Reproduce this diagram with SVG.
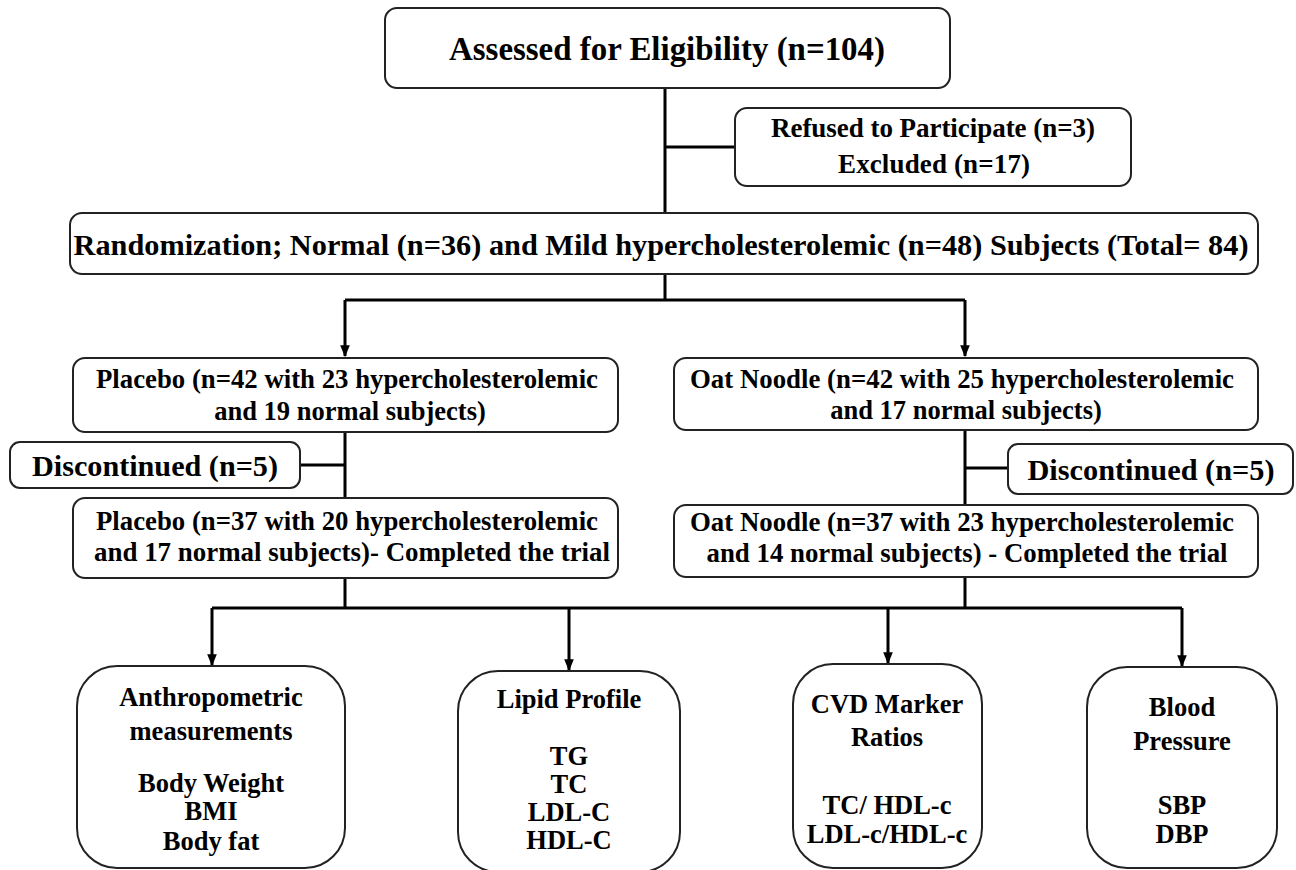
<svg xmlns="http://www.w3.org/2000/svg" width="1296" height="870" viewBox="0 0 1296 870">
<defs>
<style>
.box{fill:#fff;stroke:#222;stroke-width:2}
.t{font-family:"Liberation Serif","Times New Roman",serif;font-weight:bold;fill:#000;text-anchor:middle}
.m{font-size:26.5px}
.b{font-size:26.5px}
.c{stroke:#000;stroke-width:3;fill:none}
</style>
<marker id="ah" viewBox="0 0 10 10" refX="9" refY="5" markerWidth="4" markerHeight="4" orient="auto" markerUnits="strokeWidth">
<path d="M0,1 L10,5 L0,9 Z" fill="#000"/>
</marker>
</defs>
<rect width="1296" height="870" fill="#fff"/>
<g id="connectors">
<path class="c" d="M665,88 V213 M665,147 H735"/>
<path class="c" d="M665,274 V300 M345,300 H965"/>
<path class="c" d="M345,300 V356" marker-end="url(#ah)"/>
<path class="c" d="M965,300 V356" marker-end="url(#ah)"/>
<path class="c" d="M345,432 V498 M300,465 H345"/>
<path class="c" d="M965,430 V505 M965,468 H1008"/>
<path class="c" d="M345,578 V608 M965,577 V608 M212,608 H1182"/>
<path class="c" d="M212,608 V665" marker-end="url(#ah)"/>
<path class="c" d="M569,608 V670" marker-end="url(#ah)"/>
<path class="c" d="M888,608 V663" marker-end="url(#ah)"/>
<path class="c" d="M1182,608 V666" marker-end="url(#ah)"/>
</g>
<g id="assessed">
<rect class="box" x="385" y="8" width="565" height="80" rx="12"/>
<text class="t" x="667" y="60" font-size="33" textLength="436" lengthAdjust="spacingAndGlyphs">Assessed for Eligibility (n=104)</text>
</g>
<g id="refused">
<rect class="box" x="735" y="108" width="396" height="78" rx="12"/>
<text class="t" x="933" y="137" font-size="27" textLength="324">Refused to Participate (n=3)</text>
<text class="t" x="934" y="173" font-size="27" textLength="192">Excluded (n=17)</text>
</g>
<g id="randomization">
<rect class="box" x="70" y="213" width="1188" height="61" rx="12"/>
<text class="t" x="661" y="255" font-size="30" textLength="1175" lengthAdjust="spacingAndGlyphs">Randomization; Normal (n=36) and Mild hypercholesterolemic (n=48) Subjects (Total= 84)</text>
</g>
<g id="placebo1">
<rect class="box" x="73" y="358" width="545" height="74" rx="12"/>
<text class="t m" x="347" y="388" textLength="502" lengthAdjust="spacingAndGlyphs">Placebo (n=42 with 23 hypercholesterolemic</text>
<text class="t m" x="350" y="420">and 19 normal subjects)</text>
</g>
<g id="oat1">
<rect class="box" x="674" y="358" width="584" height="72" rx="12"/>
<text class="t m" x="962" y="388" textLength="544" lengthAdjust="spacingAndGlyphs">Oat Noodle (n=42 with 25 hypercholesterolemic</text>
<text class="t m" x="966" y="419">and 17 normal subjects)</text>
</g>
<g id="disc-left">
<rect class="box" x="10" y="442" width="290" height="46" rx="10"/>
<text class="t" x="155" y="476" font-size="30" textLength="246" lengthAdjust="spacingAndGlyphs">Discontinued (n=5)</text>
</g>
<g id="disc-right">
<rect class="box" x="1008" y="444" width="285" height="50" rx="10"/>
<text class="t" x="1151" y="480" font-size="30" textLength="247" lengthAdjust="spacingAndGlyphs">Discontinued (n=5)</text>
</g>
<g id="placebo2">
<rect class="box" x="73" y="498" width="545" height="80" rx="12"/>
<text class="t m" x="347" y="530" textLength="502" lengthAdjust="spacingAndGlyphs">Placebo (n=37 with 20 hypercholesterolemic</text>
<text class="t m" x="352" y="561" textLength="516" lengthAdjust="spacingAndGlyphs">and 17 normal subjects)- Completed the trial</text>
</g>
<g id="oat2">
<rect class="box" x="674" y="505" width="584" height="72" rx="12"/>
<text class="t m" x="962" y="531" textLength="544" lengthAdjust="spacingAndGlyphs">Oat Noodle (n=37 with 23 hypercholesterolemic</text>
<text class="t m" x="967" y="562" textLength="521" lengthAdjust="spacingAndGlyphs">and 14 normal subjects) - Completed the trial</text>
</g>
<g id="anthro">
<rect class="box" x="77" y="666" width="268" height="202" rx="40"/>
<text class="t b" x="211" y="706">Anthropometric</text>
<text class="t b" x="211" y="740">measurements</text>
<text class="t b" x="211" y="792">Body Weight</text>
<text class="t b" x="211" y="820">BMI</text>
<text class="t b" x="211" y="850">Body fat</text>
</g>
<g id="lipid">
<rect class="box" x="458" y="671" width="222" height="201" rx="40"/>
<text class="t b" x="569" y="708">Lipid Profile</text>
<text class="t b" x="569" y="765">TG</text>
<text class="t b" x="569" y="793">TC</text>
<text class="t b" x="569" y="821">LDL-C</text>
<text class="t b" x="569" y="849">HDL-C</text>
</g>
<g id="cvd">
<rect class="box" x="793" y="664" width="189" height="204" rx="40"/>
<text class="t b" x="887" y="713">CVD Marker</text>
<text class="t b" x="887" y="746">Ratios</text>
<text class="t b" x="887" y="814">TC/ HDL-c</text>
<text class="t b" x="887" y="843">LDL-c/HDL-c</text>
</g>
<g id="bp">
<rect class="box" x="1087" y="667" width="190" height="201" rx="40"/>
<text class="t b" x="1182" y="716">Blood</text>
<text class="t b" x="1182" y="750">Pressure</text>
<text class="t b" x="1182" y="814">SBP</text>
<text class="t b" x="1182" y="843">DBP</text>
</g>
</svg>
